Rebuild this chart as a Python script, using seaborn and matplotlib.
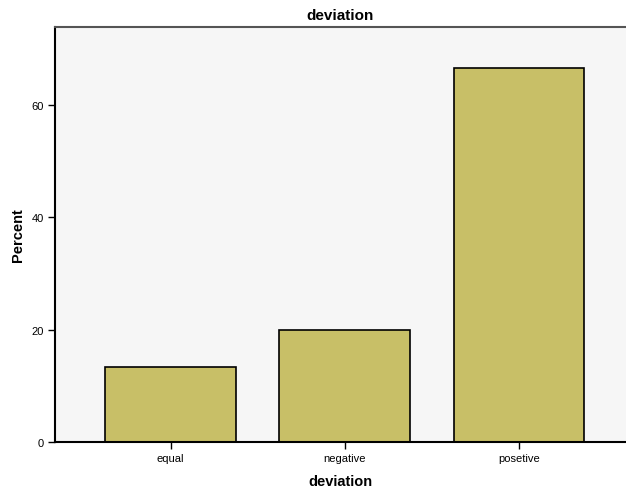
import pandas as pd
import seaborn as sns
from matplotlib import pyplot as plt

categories = ["equal", "negative", "posetive"]
percent = [13.33, 20.0, 66.67]

sns.set_style("white")
plt.rcParams["font.family"] = ["Liberation Sans", "DejaVu Sans"]
plt.rcParams["text.color"] = "black"
plt.rcParams["axes.labelcolor"] = "black"
plt.rcParams["xtick.color"] = "black"
plt.rcParams["ytick.color"] = "black"

data = pd.DataFrame({"deviation": categories, "Percent": percent})

fig = plt.figure(figsize=(6.26, 4.89), dpi=100)
ax = fig.add_axes([55 / 626, 46 / 489, 571 / 626, 415 / 489])
ax.set_facecolor("#F6F6F6")

sns.barplot(data=data, x="deviation", y="Percent", color="#C8BF67",
            saturation=1, edgecolor="black", linewidth=1.2, width=0.75, ax=ax)

ax.set_xlim(-0.664, 2.615)
ax.set_ylim(0, 73.9)
ax.set_yticks([0, 20, 40, 60])
ax.tick_params(axis="both", direction="out", length=5, width=1, labelsize=8,
               left=True, bottom=True, pad=3)

for side in ["left", "bottom"]:
    ax.spines[side].set_color("black")
    ax.spines[side].set_linewidth(1.5)
ax.spines["top"].set_color("#555555")
ax.spines["top"].set_linewidth(1.5)
ax.spines["right"].set_visible(False)

ax.set_xlabel("deviation", fontsize=10.5, fontweight="bold", labelpad=8)
ax.set_ylabel("Percent", fontsize=10.5, fontweight="bold", labelpad=5)
ax.set_title("deviation", fontsize=11, fontweight="bold", pad=6)

fig.savefig("out.png", dpi=100)
